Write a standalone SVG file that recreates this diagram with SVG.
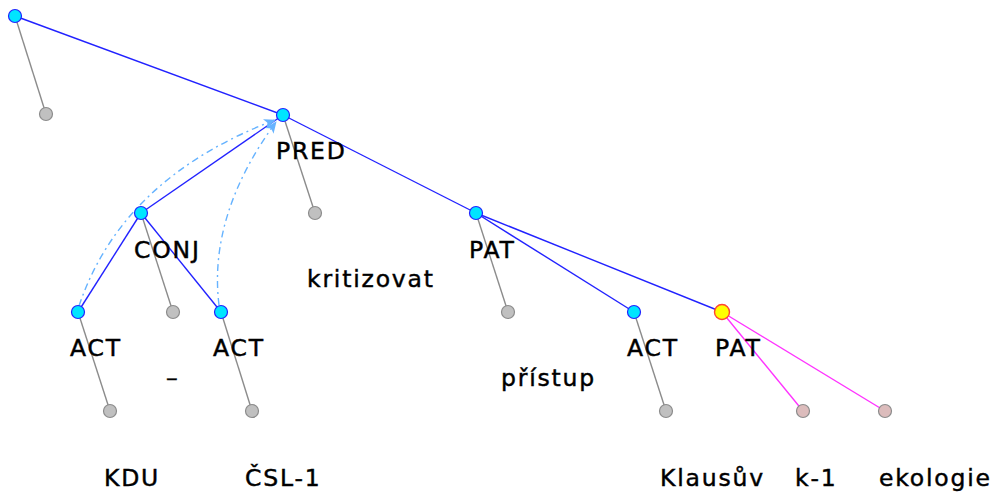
<svg xmlns="http://www.w3.org/2000/svg" width="997" height="492" viewBox="0 0 997 492">
<style>
.b{stroke:#2222ff;stroke-width:1.4;fill:none}
.g{stroke:#8c8c8c;stroke-width:1.4;fill:none}
.p{stroke:#ff33ff;stroke-width:1.4;fill:none}
.a{stroke:#66b3ff;stroke-width:1.4;fill:none;stroke-dasharray:7 4 2 4}
.nc{fill:#00e5ff;stroke:#2222ff;stroke-width:1.2}
.ng{fill:#c0c0c0;stroke:#8c8c8c;stroke-width:1.2}
.np{fill:#dcbcbc;stroke:#8c8c8c;stroke-width:1.2}
.ny{fill:#ffff00;stroke:#ff4433;stroke-width:1.4}
text{font-family:"DejaVu Sans",sans-serif;font-size:23.5px;fill:#000;stroke:#000;stroke-width:0.45;letter-spacing:1.8px}
</style>
<defs>
<marker id="ar" viewBox="0 0 12 10" refX="11" refY="5" markerWidth="12" markerHeight="10" markerUnits="userSpaceOnUse" orient="auto">
<path d="M0,0 L12,5 L0,10 L3,5 Z" fill="#66b3ff"/>
</marker>
</defs>
<g id="connectors">
<line class="b" x1="15" y1="16" x2="283" y2="115"/>
<line class="g" x1="15" y1="16" x2="46" y2="114"/>
<line class="b" x1="283" y1="115" x2="141" y2="213"/>
<line class="g" x1="283" y1="115" x2="315" y2="213"/>
<line class="b" x1="283" y1="115" x2="476" y2="213"/>
<line class="b" x1="141" y1="213" x2="78" y2="312"/>
<line class="g" x1="141" y1="213" x2="173" y2="312"/>
<line class="b" x1="141" y1="213" x2="221" y2="312"/>
<line class="g" x1="78" y1="312" x2="110" y2="411"/>
<line class="g" x1="221" y1="312" x2="252" y2="411"/>
<line class="g" x1="476" y1="213" x2="508" y2="312"/>
<line class="b" x1="476" y1="213" x2="634" y2="312"/>
<line class="b" x1="476" y1="213" x2="722" y2="312"/>
<line class="g" x1="634" y1="312" x2="666" y2="411"/>
<line class="p" x1="722" y1="312" x2="803" y2="411"/>
<line class="p" x1="722" y1="312" x2="885" y2="411"/>
<path class="a" d="M79,306 Q122,178 275,120" marker-end="url(#ar)"/>
<path class="a" d="M219,305 Q208,215 276,122" marker-end="url(#ar)"/>
</g>
<g id="n-root"><circle class="nc" cx="15" cy="16" r="6.5"/></g>
<g id="n-root-g"><circle class="ng" cx="46" cy="114" r="6.5"/></g>
<g id="n-pred"><circle class="nc" cx="283" cy="115" r="6.5"/><text x="276" y="159">PRED</text></g>
<g id="n-pred-g"><circle class="ng" cx="315" cy="213" r="6.5"/><text x="307" y="287">kritizovat</text></g>
<g id="n-conj"><circle class="nc" cx="141" cy="213" r="6.5"/><text x="134" y="258">CONJ</text></g>
<g id="n-conj-g"><circle class="ng" cx="173" cy="312" r="6.5"/><text x="166" y="386">–</text></g>
<g id="n-act1"><circle class="nc" cx="78" cy="312" r="6.5"/><text x="70" y="356">ACT</text></g>
<g id="n-act1-g"><circle class="ng" cx="110" cy="411" r="6.5"/><text x="104" y="486">KDU</text></g>
<g id="n-act2"><circle class="nc" cx="221" cy="312" r="6.5"/><text x="213" y="356">ACT</text></g>
<g id="n-act2-g"><circle class="ng" cx="252" cy="411" r="6.5"/><text x="245" y="486">ČSL-1</text></g>
<g id="n-pat"><circle class="nc" cx="476" cy="213" r="6.5"/><text x="469" y="258">PAT</text></g>
<g id="n-pat-g"><circle class="ng" cx="508" cy="312" r="6.5"/><text x="501" y="386">přístup</text></g>
<g id="n-act3"><circle class="nc" cx="634" cy="312" r="6.5"/><text x="627" y="356">ACT</text></g>
<g id="n-act3-g"><circle class="ng" cx="666" cy="411" r="6.5"/><text x="660" y="486">Klausův</text></g>
<g id="n-pat2"><circle class="ny" cx="722" cy="312" r="7.5"/><text x="715" y="356">PAT</text></g>
<g id="n-k1"><circle class="np" cx="803" cy="411" r="6.5"/><text x="795" y="486">k-1</text></g>
<g id="n-eko"><circle class="np" cx="885" cy="411" r="6.5"/><text x="879" y="486">ekologie</text></g>
</svg>
